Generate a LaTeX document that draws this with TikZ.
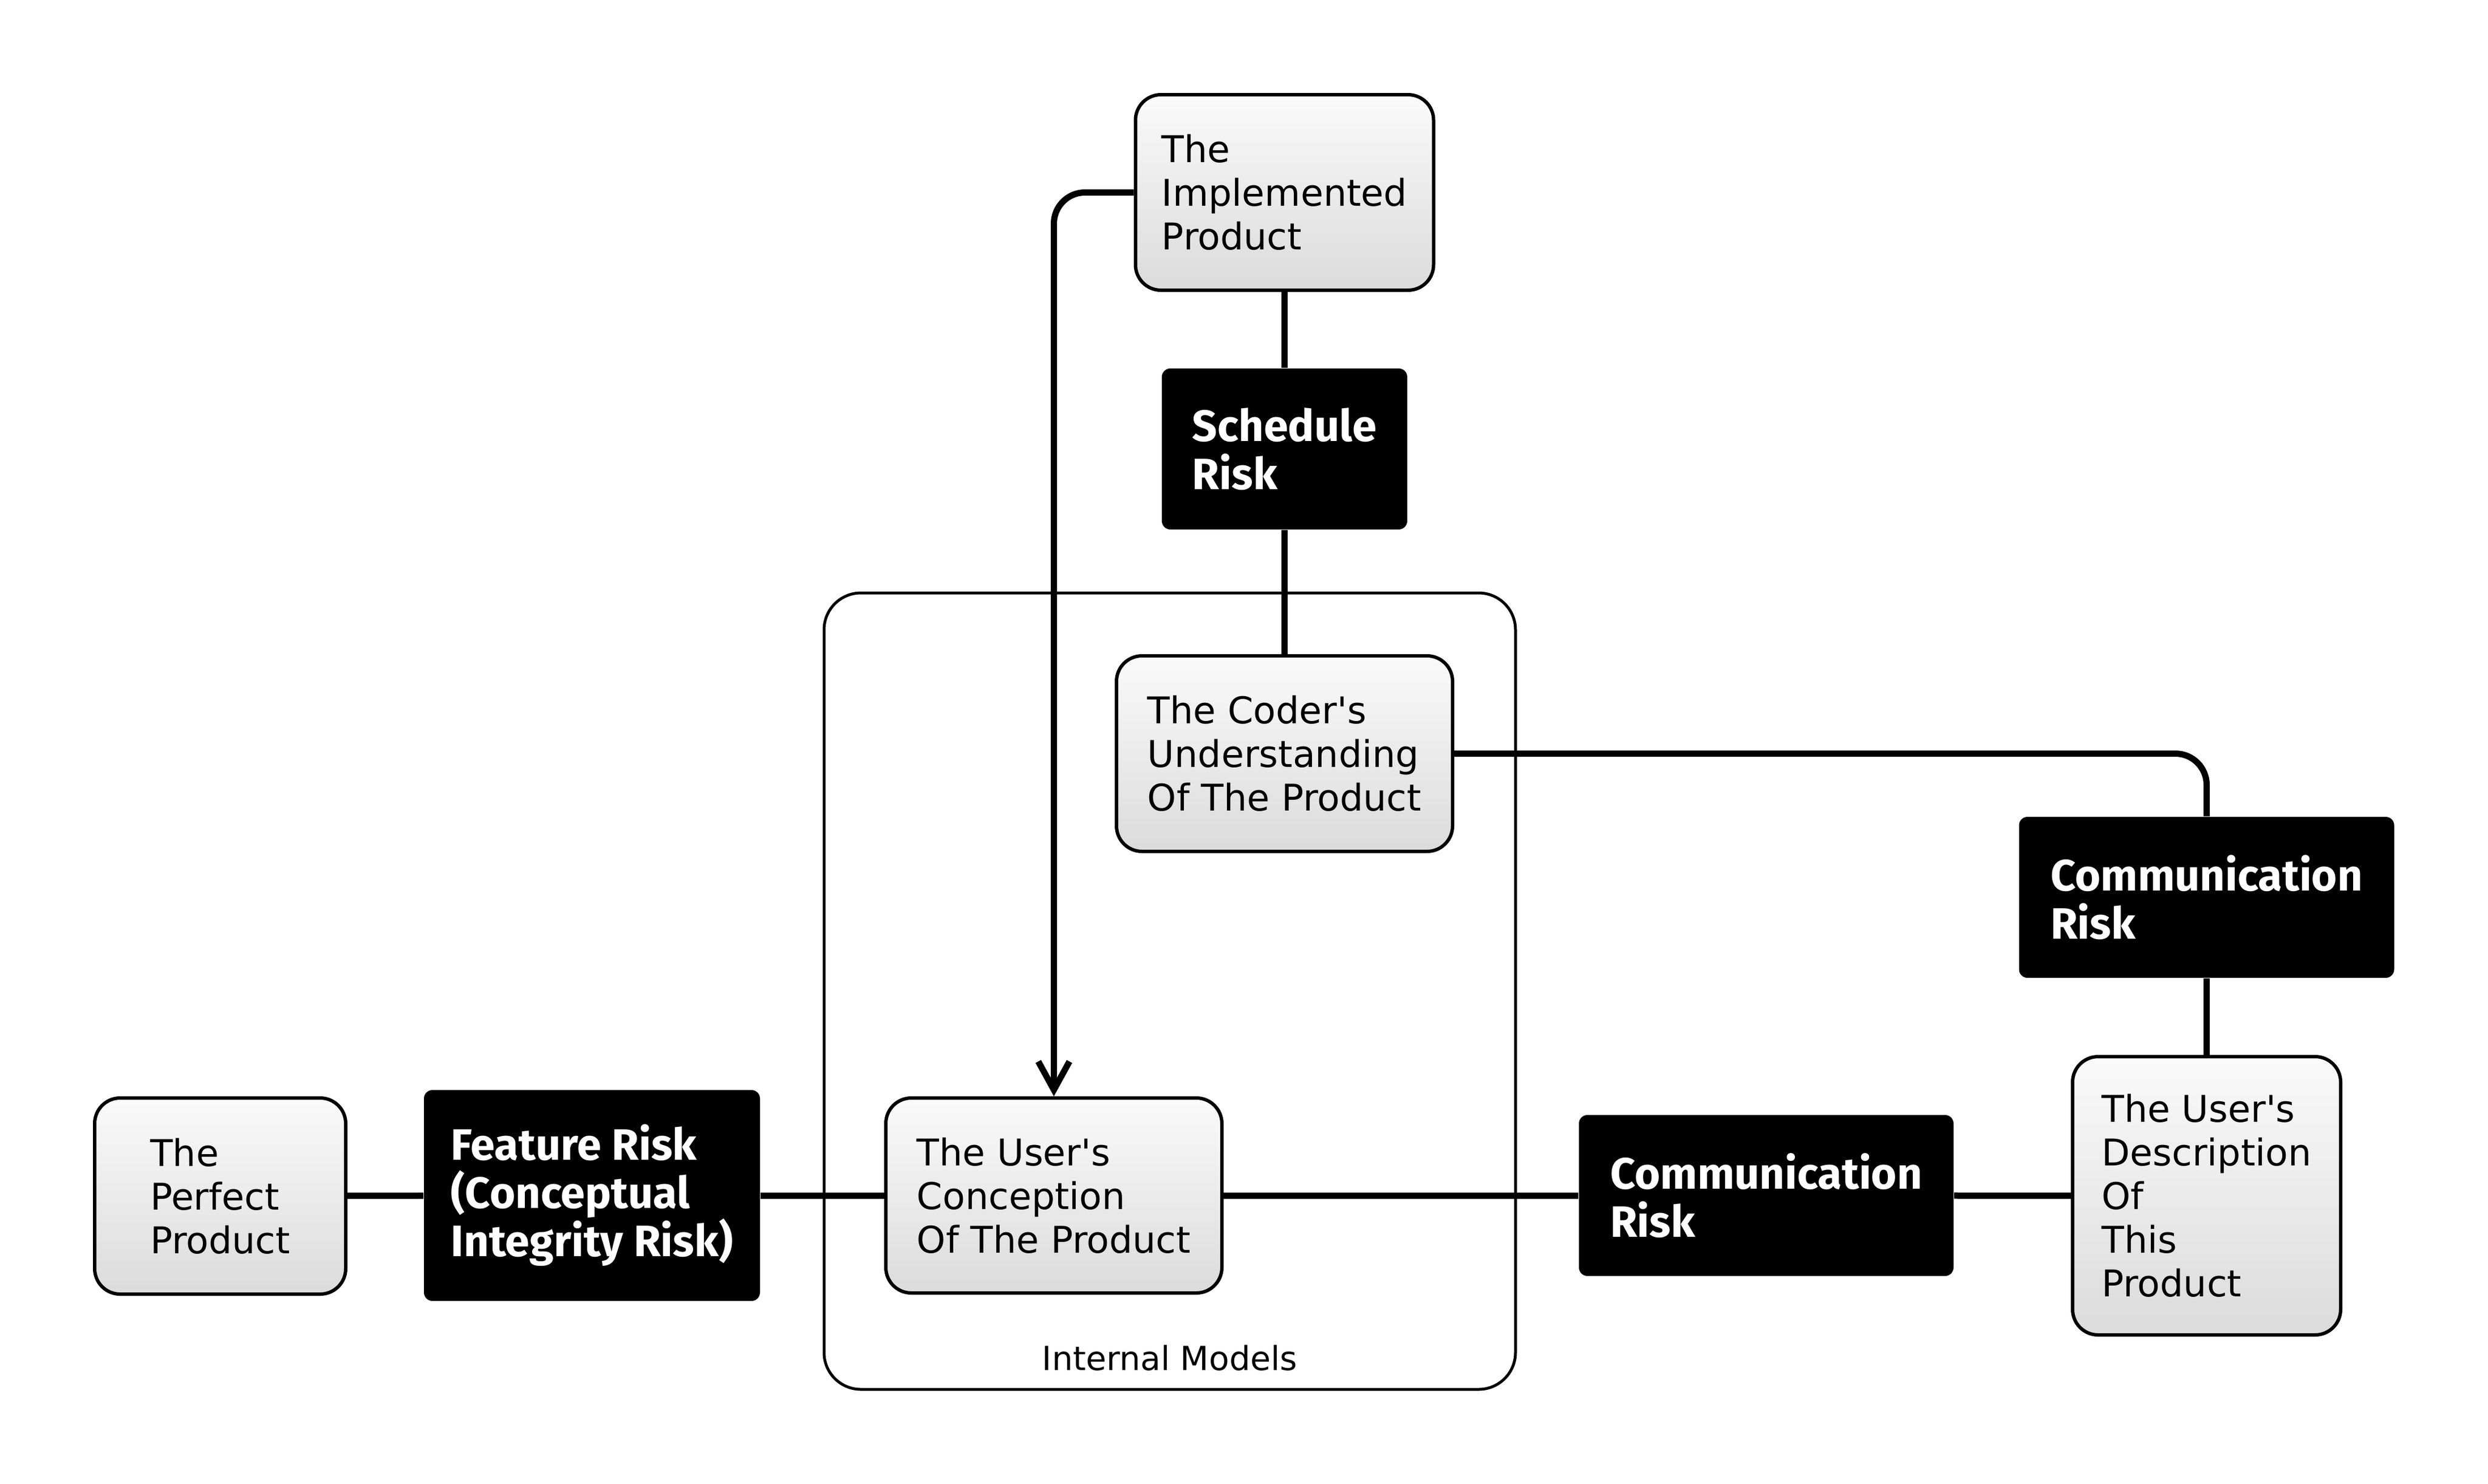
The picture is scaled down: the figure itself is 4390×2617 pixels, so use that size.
\documentclass[tikz,border=0pt]{standalone}
\usepackage{fontspec}
\setmainfont{DejaVu Sans}
\newfontfamily\riskfont{Fira Sans}
\usetikzlibrary{arrows.meta}
\begin{document}
\begin{tikzpicture}[x=0.2pt,y=-0.2pt,
  sz/.style 2 args={minimum width=#1*0.2pt, minimum height=#2*0.2pt},
  gbox/.style={draw, line width=1.2pt, rounded corners=9pt, top color=black!2, bottom color=black!14,
    align=left, font=\fontsize{13}{15.4}\selectfont, inner sep=0pt},
  rbox/.style={fill=black, rounded corners=3pt, text=white, align=left,
    font=\riskfont\bfseries\fontsize{15.5}{17}\selectfont, inner sep=0pt},
  conn/.style={line width=2.2pt},
  container/.style={draw, line width=1pt, rounded corners=13pt},
]
\useasboundingbox (0,0) rectangle (4390,2617);

% container
\node (models) [container, sz={1220}{1405}] at (2064,1748.5) {};
\node (modlabel) [anchor=base, font=\fontsize{11.7}{14}\selectfont] at (2064,2417) {Internal Models};

% nodes
\node (perfect) [gbox, sz={443}{346}] at (388.5,2110) {The\\Perfect\\Product};
\node (feature) [rbox, sz={593}{372}] at (1044.5,2109) {Feature Risk\\(Conceptual\\Integrity Risk)};
\node (conception) [gbox, sz={593}{344}] at (1859.5,2109) {The User\textquotesingle s\\Conception\\Of The Product};
\node (comm2) [rbox, sz={661}{284}] at (3116.5,2109) {Communication\\Risk};
\node (description) [gbox, sz={473}{491}] at (3893.5,2109.5) {The User\textquotesingle s\\Description\\Of\\This\\Product};
\node (comm1) [rbox, sz={662}{284}] at (3893.5,1583) {Communication\\Risk};
\node (coder) [gbox, sz={593}{345}] at (2266.5,1329.5) {The Coder\textquotesingle s\\Understanding\\Of The Product};
\node (schedule) [rbox, sz={433}{284}] at (2266.5,792) {Schedule\\Risk};
\node (implemented) [gbox, sz={526}{345}] at (2266.5,339.5) {The\\Implemented\\Product};

% connectors
\draw[conn] (perfect) -- (feature);
\draw[conn] (feature) -- (conception);
\draw[conn] (conception) -- (comm2);
\draw[conn] (comm2) -- (description);
\draw[conn] (implemented) -- (schedule);
\draw[conn] (schedule) -- (coder);
\draw[conn] (comm1) -- (description);
\draw[conn, rounded corners=11pt] (coder.east) -| (comm1.north);
\draw[conn, rounded corners=11pt, -{Straight Barb[length=10pt,width=11pt]}] (implemented.west) -| (conception.north);
\end{tikzpicture}
\end{document}
